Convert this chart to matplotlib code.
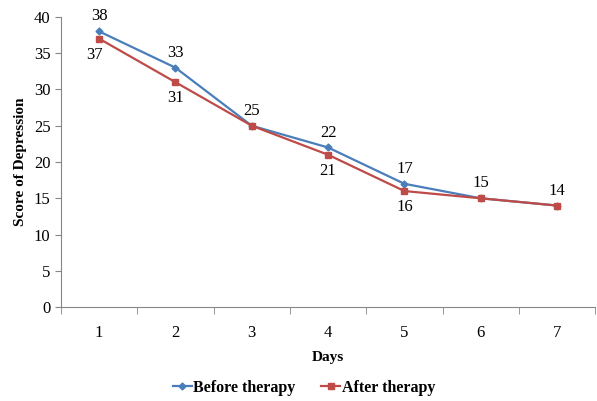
import matplotlib
matplotlib.use("Agg")
import matplotlib.pyplot as plt

days = [1, 2, 3, 4, 5, 6, 7]
before_therapy = [38, 33, 25, 22, 17, 15, 14]
after_therapy = [37, 31, 25, 21, 16, 15, 14]

plt.rcParams["font.family"] = ["Liberation Serif", "DejaVu Serif"]

BLUE = "#4A7EBB"
RED = "#BE4B48"
AXIS = "#868686"

fig = plt.figure(figsize=(5.97, 4.01), dpi=100)
ax = fig.add_axes([0.102, 0.234, 0.895, 0.724])

x = list(range(len(days)))
ax.plot(x, before_therapy, color=BLUE, lw=1.6, marker="D", ms=3.5, label="Before therapy")
ax.plot(x, after_therapy, color=RED, lw=1.6, marker="s", ms=4.5, label="After therapy")

for i, (b, a) in enumerate(zip(before_therapy, after_therapy)):
    ax.annotate(str(b), (i, b), xytext=(0, 5), textcoords="offset points",
                ha="center", va="bottom", fontsize=12)
    if a != b:
        ax.annotate(str(a), (i, a), xytext=(-3 if i == 0 else 0, -6), textcoords="offset points",
                    ha="center", va="top", fontsize=12)

ax.set_xlim(-0.5, len(days) - 0.5)
ax.set_ylim(0, 40)
ax.set_yticks(range(0, 41, 5))
ax.set_xticks(x)
ax.set_xticklabels([str(d) for d in days], fontsize=12)
ax.set_xticks([i - 0.5 for i in range(len(days) + 1)], minor=True)
ax.tick_params(axis="x", which="major", length=0, pad=13)
ax.tick_params(axis="x", which="minor", length=5, color=AXIS, direction="out")
ax.tick_params(axis="y", length=4, color=AXIS, direction="out", labelsize=12)

for s in ["top", "right"]:
    ax.spines[s].set_visible(False)
for s in ["left", "bottom"]:
    ax.spines[s].set_color(AXIS)

ax.set_xlabel("Days", fontsize=11, fontweight="bold", labelpad=7)
ax.set_ylabel("Score of Depression", fontsize=11, fontweight="bold", labelpad=5)

ax.legend(loc="upper center", bbox_to_anchor=(0.455, -0.2), ncol=2, frameon=False,
          prop={"weight": "bold", "size": 11.5}, handlelength=1.2, handletextpad=0.1,
          columnspacing=1.6)

fig.savefig("out.png", dpi=100)
